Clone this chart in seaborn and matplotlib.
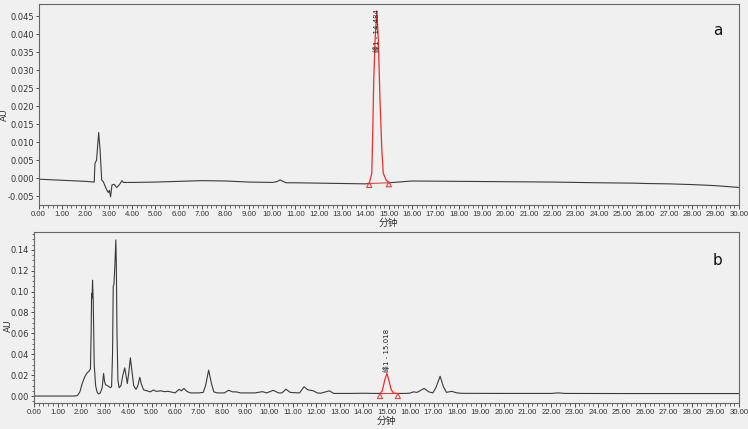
import numpy as np
import pandas as pd
import matplotlib
matplotlib.use("Agg")
import matplotlib.pyplot as plt
import seaborn as sns
from matplotlib import font_manager
from matplotlib.ticker import MultipleLocator, FormatStrFormatter

# ---- panel a: trace (min, AU) ----
a_time = [0.0, 1.0, 2.0, 2.38, 2.41, 2.48, 2.57, 2.63, 2.70, 2.77, 2.88, 2.98, 3.03,
          3.08, 3.14, 3.23, 3.34, 3.45, 3.57, 3.63, 4.0, 5.0, 6.0, 7.0, 8.0, 9.0,
          10.0, 10.2, 10.34, 10.6, 11.0, 12.0, 13.0, 14.0, 14.16]
a_au = [-0.0003, -0.0006, -0.0009, -0.0011, 0.0041, 0.005, 0.0127, 0.0078, -0.0005,
        -0.001, -0.0028, -0.004, -0.0034, -0.0052, -0.0019, -0.0017, -0.0026, -0.0019,
        -0.0007, -0.0012, -0.0012, -0.0011, -0.0009, -0.0007, -0.0008, -0.0011,
        -0.0012, -0.0010, -0.0005, -0.0013, -0.0013, -0.0014, -0.0015, -0.0016, -0.0015]
a_peak_time = [14.16, 14.27, 14.31, 14.35, 14.41, 14.484, 14.55, 14.62, 14.70, 14.76, 14.88, 15.0]
a_peak_au = [-0.0015, 0.0014, 0.0126, 0.0265, 0.0385, 0.0464, 0.0385, 0.0218, 0.0078, 0.0014, -0.0005, -0.0013]
a_tail_time = [15.0, 16.0, 18.0, 20.0, 22.0, 24.0, 25.5, 26.0, 27.0, 28.0, 29.0, 30.0]
a_tail_au = [-0.0013, -0.0008, -0.0009, -0.001, -0.0011, -0.0013, -0.0014, -0.0015,
             -0.0016, -0.0018, -0.0021, -0.0026]
a_marks_time = [14.16, 15.0]
a_marks_au = [-0.0019, -0.0017]

# ---- panel b ----
b_time = [0.0, 1.0, 1.7, 1.85, 1.95, 2.05, 2.15, 2.25, 2.35, 2.40, 2.43, 2.45, 2.47,
          2.49, 2.52, 2.56, 2.62, 2.68, 2.74, 2.82, 2.90, 2.96, 3.00, 3.04, 3.15, 3.25,
          3.30, 3.34, 3.37, 3.40, 3.44, 3.48, 3.50, 3.53, 3.57, 3.62, 3.70, 3.78, 3.86,
          3.92, 3.97, 4.03, 4.10, 4.16, 4.24, 4.34, 4.42, 4.50, 4.56, 4.66, 4.80, 4.95,
          5.08, 5.2, 5.4, 5.55, 5.7, 5.85, 6.0, 6.17, 6.27, 6.38, 6.5, 6.65, 7.0, 7.2,
          7.3, 7.43, 7.55, 7.65, 7.8, 8.1, 8.28, 8.45, 8.6, 8.8, 9.4, 9.72, 9.9, 10.18,
          10.4, 10.55, 10.72, 10.9, 11.1, 11.3, 11.49, 11.65, 11.89, 12.05, 12.2, 12.57,
          12.75, 13.5, 14.0, 14.5, 14.72]
b_au = [0.0, 0.0, 0.0, 0.0005, 0.004, 0.012, 0.018, 0.022, 0.024, 0.026, 0.06, 0.098,
        0.094, 0.111, 0.09, 0.03, 0.01, 0.004, 0.002, 0.003, 0.008, 0.0217, 0.014, 0.011,
        0.0095, 0.008, 0.009, 0.04, 0.105, 0.107, 0.125, 0.1495, 0.13, 0.06, 0.015, 0.008,
        0.010, 0.02, 0.027, 0.019, 0.012, 0.022, 0.0366, 0.025, 0.01, 0.0064, 0.01, 0.018,
        0.012, 0.006, 0.005, 0.004, 0.0058, 0.0045, 0.005, 0.0042, 0.0045, 0.0038, 0.003,
        0.0064, 0.005, 0.0073, 0.0045, 0.003, 0.003, 0.0035, 0.01, 0.0248, 0.012, 0.004,
        0.003, 0.003, 0.0055, 0.004, 0.004, 0.003, 0.003, 0.0042, 0.003, 0.0055, 0.003,
        0.003, 0.0066, 0.0035, 0.0032, 0.003, 0.0089, 0.006, 0.005, 0.003, 0.0027, 0.005,
        0.0025, 0.0025, 0.0027, 0.0025, 0.0025]
b_peak_time = [14.72, 14.82, 14.92, 15.018, 15.1, 15.2, 15.3, 15.48]
b_peak_au = [0.0025, 0.005, 0.015, 0.0217, 0.015, 0.006, 0.0028, 0.0025]
b_tail_time = [15.48, 15.8, 16.0, 16.14, 16.3, 16.6, 16.8, 16.97, 17.1, 17.28, 17.42,
               17.55, 17.77, 18.0, 18.2, 20.0, 22.0, 22.3, 22.6, 25.0, 30.0]
b_tail_au = [0.0025, 0.0025, 0.0028, 0.004, 0.0035, 0.0073, 0.004, 0.003, 0.008, 0.019,
             0.009, 0.0035, 0.0045, 0.003, 0.0026, 0.0025, 0.0025, 0.003, 0.0025, 0.0024, 0.0024]
b_marks_time = [14.72, 15.48]
b_marks_au = [0.0, 0.0]

a_label = "峰1 - 14.484"
b_label = "峰1 - 15.018"
x_label = "分钟"
y_label = "AU"

BG = "#f0f0f0"
TRACE = "#3a3a3a"
RED = "#e8302c"

sns.set_style("ticks")
plt.rcParams['font.family'] = ['DejaVu Sans', 'Noto Sans CJK SC']
names = {f.name for f in font_manager.fontManager.ttflist}
narrow = 'Liberation Sans Narrow' if 'Liberation Sans Narrow' in names else 'Liberation Sans'

fig = plt.figure(figsize=(7.48, 4.29), dpi=100, facecolor=BG)
ax_a = fig.add_axes([0.0517, 0.522, 0.9363, 0.469])
ax_b = fig.add_axes([0.0455, 0.061, 0.9425, 0.398])


def draw_panel(ax, t, y, pt, py, tt, ty, mt, my, label, peak_x, text_y, letter, letter_y):
    ax.set_facecolor(BG)
    head = pd.DataFrame({"t": t, "au": y})
    tail = pd.DataFrame({"t": tt, "au": ty})
    peak = pd.DataFrame({"t": pt, "au": py})
    for part in (head, tail):
        sns.lineplot(data=part, x="t", y="au", ax=ax, color=TRACE, linewidth=0.8,
                     sort=False, estimator=None)
    sns.lineplot(data=peak, x="t", y="au", ax=ax, color=RED, linewidth=0.9,
                 sort=False, estimator=None)
    ax.plot([pt[0], pt[-1]], [py[0], py[-1]], color=RED, linewidth=0.7)
    ax.scatter(mt, my, marker="^", s=14, facecolors="none", edgecolors=RED, linewidths=0.7, zorder=4)
    ax.text(peak_x, text_y, label, rotation=90, ha="center", va="bottom", fontsize=5,
            color="#222222", family=['DejaVu Sans', 'Noto Sans CJK SC'])
    ax.text(0.969, letter_y, letter, transform=ax.transAxes, fontsize=11, color="#111111",
            ha="center", va="center")
    ax.set_xlim(0, 30)
    ax.xaxis.set_major_locator(MultipleLocator(1))
    ax.xaxis.set_minor_locator(MultipleLocator(0.2))
    ax.xaxis.set_major_formatter(FormatStrFormatter("%.2f"))
    ax.tick_params(axis="x", which="major", labelsize=5.6, length=3, width=0.6, pad=1.5, colors="#333333")
    ax.tick_params(axis="x", which="minor", length=1.8, width=0.5, colors="#333333")
    ax.tick_params(axis="y", which="major", labelsize=6, length=2.5, width=0.6, pad=1, colors="#333333")
    ax.tick_params(axis="y", which="minor", length=1.2, width=0.5, colors="#333333")
    ax.set_xlabel(x_label, fontsize=7, family=['Noto Sans CJK SC'], labelpad=0, color="#333333")
    ax.set_ylabel(y_label, fontsize=6.5, color="#333333", va="center")
    for s in ax.spines.values():
        s.set_visible(True)
        s.set_color("#666666")
        s.set_linewidth(0.8)


draw_panel(ax_a, a_time, a_au, a_peak_time, a_peak_au, a_tail_time, a_tail_au,
           a_marks_time, a_marks_au, a_label, 14.484, 0.0352, "a", 0.87)
ax_a.set_ylim(-0.0075, 0.0485)
ax_a.yaxis.set_major_locator(MultipleLocator(0.005))
ax_a.yaxis.set_major_formatter(FormatStrFormatter("%.3f"))
ax_a.yaxis.set_label_coords(-0.049, 0.45)

draw_panel(ax_b, b_time, b_au, b_peak_time, b_peak_au, b_tail_time, b_tail_au,
           b_marks_time, b_marks_au, b_label, 15.018, 0.023, "b", 0.836)
ax_b.set_ylim(-0.0065, 0.157)
ax_b.yaxis.set_major_locator(MultipleLocator(0.02))
ax_b.yaxis.set_minor_locator(MultipleLocator(0.005))
ax_b.yaxis.set_major_formatter(FormatStrFormatter("%.2f"))
ax_b.yaxis.set_label_coords(-0.037, 0.45)

for ax in (ax_a, ax_b):
    for lab in ax.get_xticklabels():
        lab.set_family(narrow)

fig.savefig("out.png", dpi=100, facecolor=BG)
